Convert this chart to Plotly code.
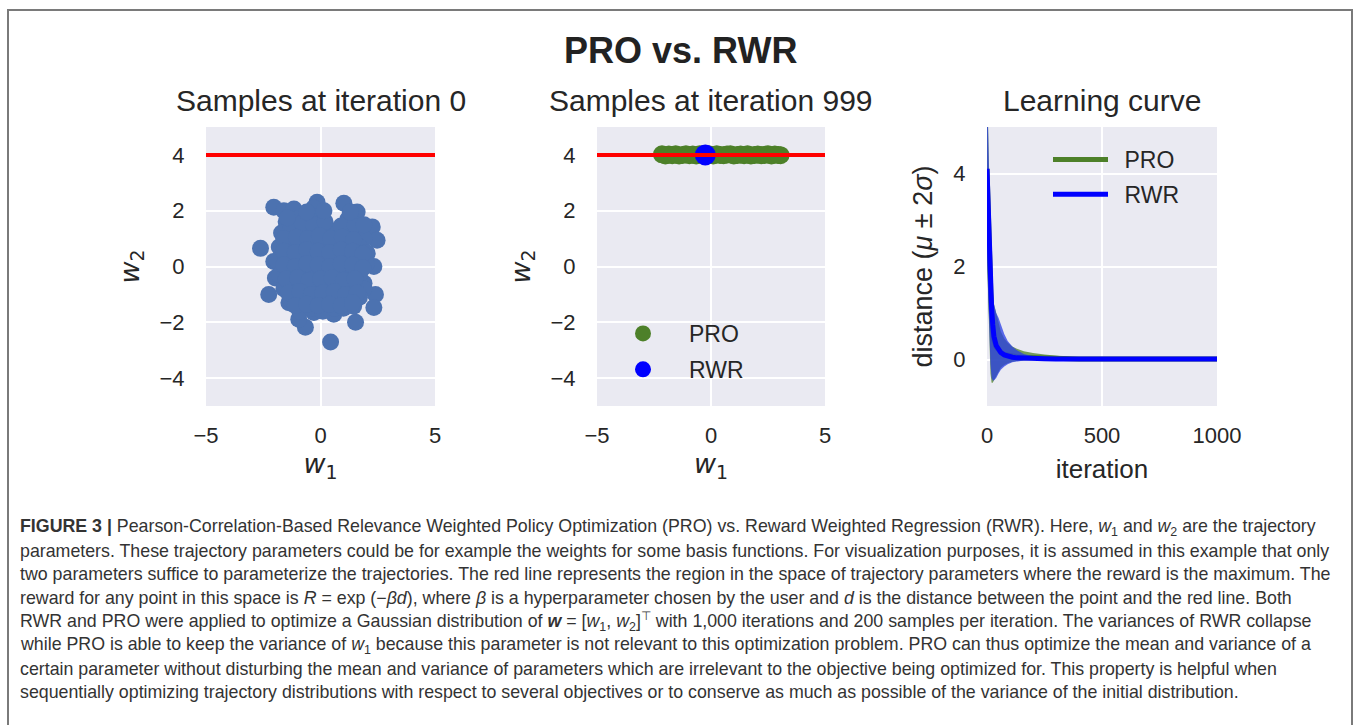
import plotly.graph_objects as go

W, H = 1360, 725

# ---------------- data ----------------
# panel 1: samples at iteration 0
init_w1 = [-2.62, -2.26, -2.04, -1.6, -1.16, -0.15, 1.02, 1.6, 2.26, 2.47, 2.33, 2.4, 2.33, 1.53, 0.44,
           -0.66, -0.95, -1.38, -1.97, -2.04, 0.4, 2.04, 1.9, 1.45, 0.58, -0.29,
           -1.5, -1.0, -0.5, 0.0, -0.3, 1.2, 1.6, 1.9, -1.7, -1.2, -0.7, -0.2, 0.3, 0.8, 1.3,
           -1.8, -1.3, -0.8, -0.3, 0.2, 0.7, 1.2, 1.7, 2.0,
           -1.9, -1.4, -0.9, -0.4, 0.1, 0.6, 1.1, 1.6, 2.0,
           -1.8, -1.3, -0.8, -0.3, 0.2, 0.7, 1.2, 1.7,
           -1.6, -1.1, -0.6, -0.1, 0.4, 0.9, 1.4, 1.9,
           -1.3, -0.8, -0.3, 0.2, 0.7, 1.2, 1.7,
           -0.9, -0.4, 0.1, 0.6, 1.0,
           -1.3, -0.8, -0.3, 0.2, 0.9, 1.5,
           -1.6, -1.05, -0.55, -0.05, 0.45, 0.95, 1.45,
           -1.6, -1.1, -0.6, -0.1, 0.4, 0.9, 1.4, 1.85,
           -1.6, -1.1, -0.6, -0.1, 0.4, 0.9, 1.4, 1.85,
           -1.5, -1.0, -0.5, 0.0, 0.5, 1.0, 1.5,
           -1.4, -0.9, -0.4, 0.1, 0.6, 1.1, 1.6,
           -1.1, -0.6, -0.1, 0.4, 0.9, 1.4,
           -0.6, 0.15, 1.3, 1.9, -1.45]
init_w2 = [0.65, -1.0, 2.12, 2.0, 2.06, 2.3, 2.27, 1.95, 1.42, 0.94, 0.0, -1.0, -1.47, -2.0, -2.71,
           -2.18, -1.89, -1.3, -0.41, 0.18, 1.3, 0.47, -0.6, -1.42, -1.71, -1.65,
           1.6, 1.7, 1.8, 1.9, 2.1, 1.7, 1.3, 1.0, 1.2, 1.2, 1.3, 1.4, 1.3, 1.3, 1.2,
           0.7, 0.8, 0.8, 0.9, 0.8, 0.9, 0.8, 0.7, 0.5,
           0.2, 0.3, 0.3, 0.4, 0.3, 0.4, 0.3, 0.2, 0.1,
           -0.3, -0.2, -0.2, -0.1, -0.2, -0.1, -0.2, -0.3,
           -0.8, -0.7, -0.6, -0.7, -0.6, -0.7, -0.7, -0.8,
           -1.2, -1.2, -1.1, -1.2, -1.1, -1.2, -1.1,
           -1.6, -1.5, -1.6, -1.5, -1.5,
           1.5, 1.55, 1.5, 1.6, 1.45, 1.5,
           1.0, 1.05, 1.0, 1.1, 1.0, 1.05, 0.95,
           0.55, 0.5, 0.6, 0.55, 0.5, 0.6, 0.55, 0.45,
           0.05, 0.0, 0.1, 0.05, 0.0, 0.1, 0.05, -0.05,
           -0.45, -0.4, -0.5, -0.45, -0.4, -0.5, -0.45,
           -0.95, -0.9, -1.0, -0.95, -0.9, -1.0, -0.95,
           -1.4, -1.35, -1.4, -1.35, -1.4, -1.3,
           1.95, 2.0, 1.95, 1.5, 1.75]

# panel 2: samples at iteration 999
pro_w1 = [-2.15, -2.0, -1.85, -1.7, -1.55, -1.4, -1.25, -1.1, -0.95, -0.8, -0.65, -0.5, -0.35, -0.2,
          -0.05, 0.1, 0.25, 0.4, 0.55, 0.7, 0.85, 1.0, 1.15, 1.3, 1.45, 1.6, 1.75, 1.9, 2.05, 2.2,
          2.35, 2.5, 2.65, 2.8, 2.95, 3.05]
pro_w2 = [4.02, 3.98, 4.01, 3.99, 4.02, 3.98, 4.0, 4.02, 3.99, 4.01, 3.98, 4.02, 4.0, 3.99,
          4.01, 3.98, 4.02, 4.0, 3.99, 4.01, 4.02, 3.98, 4.0, 4.01, 3.99, 4.02, 3.98, 4.0, 4.01, 3.99,
          4.0, 4.02, 3.98, 4.01, 4.0, 3.99]
rwr_w1 = [-0.25]
rwr_w2 = [4.0]

# red line (reward maximum)
line_w1 = [-5, 5]
line_w2 = [4, 4]

# panel 3: learning curves (distance, mean and mean +/- 2 sigma)
iters = [0, 3, 6, 10, 15, 20, 25, 30, 40, 50, 60, 75, 90, 110, 130, 160, 200, 250, 300, 350, 400,
         500, 600, 700, 800, 900, 1000]
pro_mean = [4.1, 3.5, 2.9, 2.1, 1.4, 0.9, 0.6, 0.42, 0.27, 0.19, 0.15, 0.11, 0.09, 0.07, 0.06, 0.05,
            0.04, 0.03, 0.02, 0.015, 0.01, 0.01, 0.01, 0.01, 0.01, 0.01, 0.01]
pro_upper = [6.0, 5.3, 4.5, 3.4, 2.4, 1.8, 1.4, 1.2, 1.0, 0.8, 0.6, 0.45, 0.36, 0.28, 0.23, 0.18,
             0.14, 0.11, 0.08, 0.06, 0.045, 0.035, 0.03, 0.03, 0.03, 0.03, 0.03]
pro_lower = [2.2, 1.6, 1.0, 0.3, -0.3, -0.5, -0.5, -0.45, -0.35, -0.25, -0.18, -0.12, -0.08, -0.05,
             -0.03, -0.02, -0.01, -0.005, 0.0, 0.0, 0.0, 0.0, 0.0, 0.0, 0.0, 0.0, 0.0]
rwr_mean = [4.1, 3.6, 3.0, 2.3, 1.6, 1.1, 0.75, 0.5, 0.3, 0.2, 0.15, 0.1, 0.07, 0.05, 0.035, 0.025,
            0.02, 0.015, 0.01, 0.01, 0.01, 0.01, 0.01, 0.01, 0.01, 0.01, 0.01]
rwr_upper = [6.0, 5.5, 4.8, 3.8, 2.8, 2.0, 1.5, 1.2, 1.0, 0.9, 0.75, 0.55, 0.4, 0.28, 0.2, 0.12,
             0.07, 0.05, 0.035, 0.03, 0.03, 0.03, 0.03, 0.03, 0.03, 0.03, 0.03]
rwr_lower = [2.2, 1.7, 1.1, 0.5, -0.1, -0.4, -0.45, -0.45, -0.4, -0.3, -0.22, -0.15, -0.1, -0.06,
             -0.04, -0.02, -0.01, 0.0, 0.0, 0.0, 0.0, 0.0, 0.0, 0.0, 0.0, 0.0, 0.0]

caption_lines = [
    "<b>FIGURE 3 |</b> Pearson-Correlation-Based Relevance Weighted Policy Optimization (PRO) vs. Reward Weighted Regression (RWR). Here, <i>w</i><sub>1</sub> and <i>w</i><sub>2</sub> are the trajectory",
    "parameters. These trajectory parameters could be for example the weights for some basis functions. For visualization purposes, it is assumed in this example that only",
    "two parameters suffice to parameterize the trajectories. The red line represents the region in the space of trajectory parameters where the reward is the maximum. The",
    "reward for any point in this space is <i>R</i> = exp (−<i>βd</i>), where <i>β</i> is a hyperparameter chosen by the user and <i>d</i> is the distance between the point and the red line. Both",
    "RWR and PRO were applied to optimize a Gaussian distribution of <b><i>w</i></b> = [<i>w</i><sub>1</sub>, <i>w</i><sub>2</sub>]<sup>⊤</sup> with 1,000 iterations and 200 samples per iteration. The variances of RWR collapse",
    "while PRO is able to keep the variance of <i>w</i><sub>1</sub> because this parameter is not relevant to this optimization problem. PRO can thus optimize the mean and variance of a",
    "certain parameter without disturbing the mean and variance of parameters which are irrelevant to the objective being optimized for. This property is helpful when",
    "sequentially optimizing trajectory distributions with respect to several objectives or to conserve as much as possible of the variance of the initial distribution.",
]

# ---------------- style ----------------
BG = "#EAEAF2"
TXT = "#262626"
GREEN = "#4d8029"
BLUE = "#0000FF"
SEABLUE = "#4C72B0"
RED = "#FF0000"
FONT = "Liberation Sans, Arial, sans-serif"
MATHFONT = "DejaVu Sans, sans-serif"

def px_x(p):
    return p / W

def px_y(p):
    return 1 - p / H

ydom = [px_y(406), px_y(127)]
xdoms = [[px_x(206), px_x(435)], [px_x(597), px_x(825)], [px_x(987), px_x(1217)]]

fig = go.Figure()

# panel 1
fig.add_trace(go.Scatter(x=init_w1, y=init_w2, mode="markers", xaxis="x", yaxis="y",
                         marker=dict(color=SEABLUE, size=17, line=dict(width=0)), showlegend=False))
fig.add_trace(go.Scatter(x=line_w1, y=line_w2, mode="lines", xaxis="x", yaxis="y",
                         line=dict(color=RED, width=4), showlegend=False))

# panel 2
fig.add_trace(go.Scatter(x=pro_w1, y=pro_w2, mode="markers", xaxis="x2", yaxis="y2", name="PRO",
                         marker=dict(color=GREEN, size=18, line=dict(width=0)),
                         legend="legend", legendgroup="a"))
fig.add_trace(go.Scatter(x=rwr_w1, y=rwr_w2, mode="markers", xaxis="x2", yaxis="y2", name="RWR",
                         marker=dict(color=BLUE, size=21, line=dict(width=0)),
                         legend="legend", legendgroup="b"))
fig.add_trace(go.Scatter(x=line_w1, y=line_w2, mode="lines", xaxis="x2", yaxis="y2",
                         line=dict(color=RED, width=4), showlegend=False))

# panel 3: bands + means
def band(x, lo, hi, color):
    fig.add_trace(go.Scatter(x=x, y=lo, mode="lines", line=dict(width=0), xaxis="x3", yaxis="y3",
                             showlegend=False, hoverinfo="skip"))
    fig.add_trace(go.Scatter(x=x, y=hi, mode="lines", line=dict(width=0), fill="tonexty",
                             fillcolor=color, xaxis="x3", yaxis="y3", showlegend=False,
                             hoverinfo="skip"))

band(iters, pro_lower, pro_upper, "rgba(77,128,41,0.75)")
fig.add_trace(go.Scatter(x=iters, y=pro_mean, mode="lines", name="\u2002PRO", xaxis="x3", yaxis="y3",
                         line=dict(color=GREEN, width=5), legend="legend2", legendgroup="c"))
band(iters, rwr_lower, rwr_upper, "rgba(40,60,230,0.75)")
fig.add_trace(go.Scatter(x=iters, y=rwr_mean, mode="lines", name="\u2002RWR", xaxis="x3", yaxis="y3",
                         line=dict(color=BLUE, width=5), legend="legend2", legendgroup="d"))

tickfont = dict(family=FONT, size=22, color=TXT)
common_x = dict(showgrid=True, gridcolor="white", gridwidth=1.5, zeroline=False, showline=False,
                ticks="outside", ticklen=10, tickcolor="rgba(0,0,0,0)", tickfont=tickfont)
common_y = dict(showgrid=True, gridcolor="white", gridwidth=1.5, zeroline=False, showline=False,
                ticks="outside", ticklen=16, tickcolor="rgba(0,0,0,0)", tickfont=tickfont)

w1_title = dict(text="<i>w</i><sub>1</sub>", font=dict(family=MATHFONT, size=27, color=TXT), standoff=5)
w2_title = dict(text="<i>w</i><sub>2</sub>", font=dict(family=MATHFONT, size=27, color=TXT), standoff=12)

fig.update_layout(
    width=W, height=H,
    margin=dict(l=0, r=0, t=0, b=0, autoexpand=False),
    paper_bgcolor="white", plot_bgcolor=BG,
    font=dict(family=FONT, color=TXT),
    xaxis=dict(domain=xdoms[0], anchor="y", range=[-5, 5], tickvals=[-5, 0, 5], title=w1_title, **common_x),
    yaxis=dict(domain=ydom, anchor="x", range=[-5, 5], tickvals=[-4, -2, 0, 2, 4], title=w2_title, **common_y),
    xaxis2=dict(domain=xdoms[1], anchor="y2", range=[-5, 5], tickvals=[-5, 0, 5], title=w1_title, **common_x),
    yaxis2=dict(domain=ydom, anchor="x2", range=[-5, 5], tickvals=[-4, -2, 0, 2, 4], title=w2_title, **common_y),
    xaxis3=dict(domain=xdoms[2], anchor="y3", range=[0, 1000], tickvals=[0, 500, 1000],
                title=dict(text="iteration", font=dict(family=FONT, size=26, color=TXT), standoff=12), **common_x),
    yaxis3=dict(domain=ydom, anchor="x3", range=[-1.0, 5.0], tickvals=[0, 2, 4],
                title=dict(text="distance (<i>μ</i> ± 2<i>σ</i>)", font=dict(family=FONT, size=27, color=TXT), standoff=12),
                **common_y),
    legend=dict(x=px_x(597), y=px_y(312), xanchor="left", yanchor="top", bgcolor="rgba(0,0,0,0)",
                font=dict(family=FONT, size=23, color=TXT), traceorder="grouped", tracegroupgap=3,
                itemwidth=82),
    legend2=dict(x=px_x(1048), y=px_y(138), xanchor="left", yanchor="top", bgcolor="rgba(0,0,0,0)",
                 font=dict(family=FONT, size=23, color=TXT), traceorder="grouped", tracegroupgap=2,
                 itemwidth=55),
    showlegend=True,
)

annotations = [
    dict(text="<b>PRO vs. RWR</b>", x=px_x(680), y=px_y(50), xref="paper", yref="paper",
         showarrow=False, font=dict(family=FONT, size=36, color="#222222"), xanchor="center", yanchor="middle"),
]
for dom, t in zip(xdoms, ["Samples at iteration 0", "Samples at iteration 999", "Learning curve"]):
    annotations.append(dict(text=t, x=(dom[0] + dom[1]) / 2, y=px_y(100), xref="paper", yref="paper",
                            showarrow=False, font=dict(family=FONT, size=30, color=TXT),
                            xanchor="center", yanchor="middle"))

cap_y0, cap_dy = 527, 23.6
for i, line in enumerate(caption_lines):
    annotations.append(dict(text=line, x=px_x(18), y=px_y(cap_y0 + i * cap_dy), xref="paper", yref="paper",
                            showarrow=False, font=dict(family=FONT, size=17.8, color="#333333"),
                            xanchor="left", yanchor="middle", align="left"))
fig.update_layout(annotations=annotations)

# figure frame
fig.add_shape(type="rect", xref="paper", yref="paper", x0=px_x(8), x1=px_x(1352), y0=-0.01, y1=px_y(10),
              line=dict(color="#7a7a7a", width=2), fillcolor="rgba(0,0,0,0)", layer="below")

fig.write_html("out.html")
